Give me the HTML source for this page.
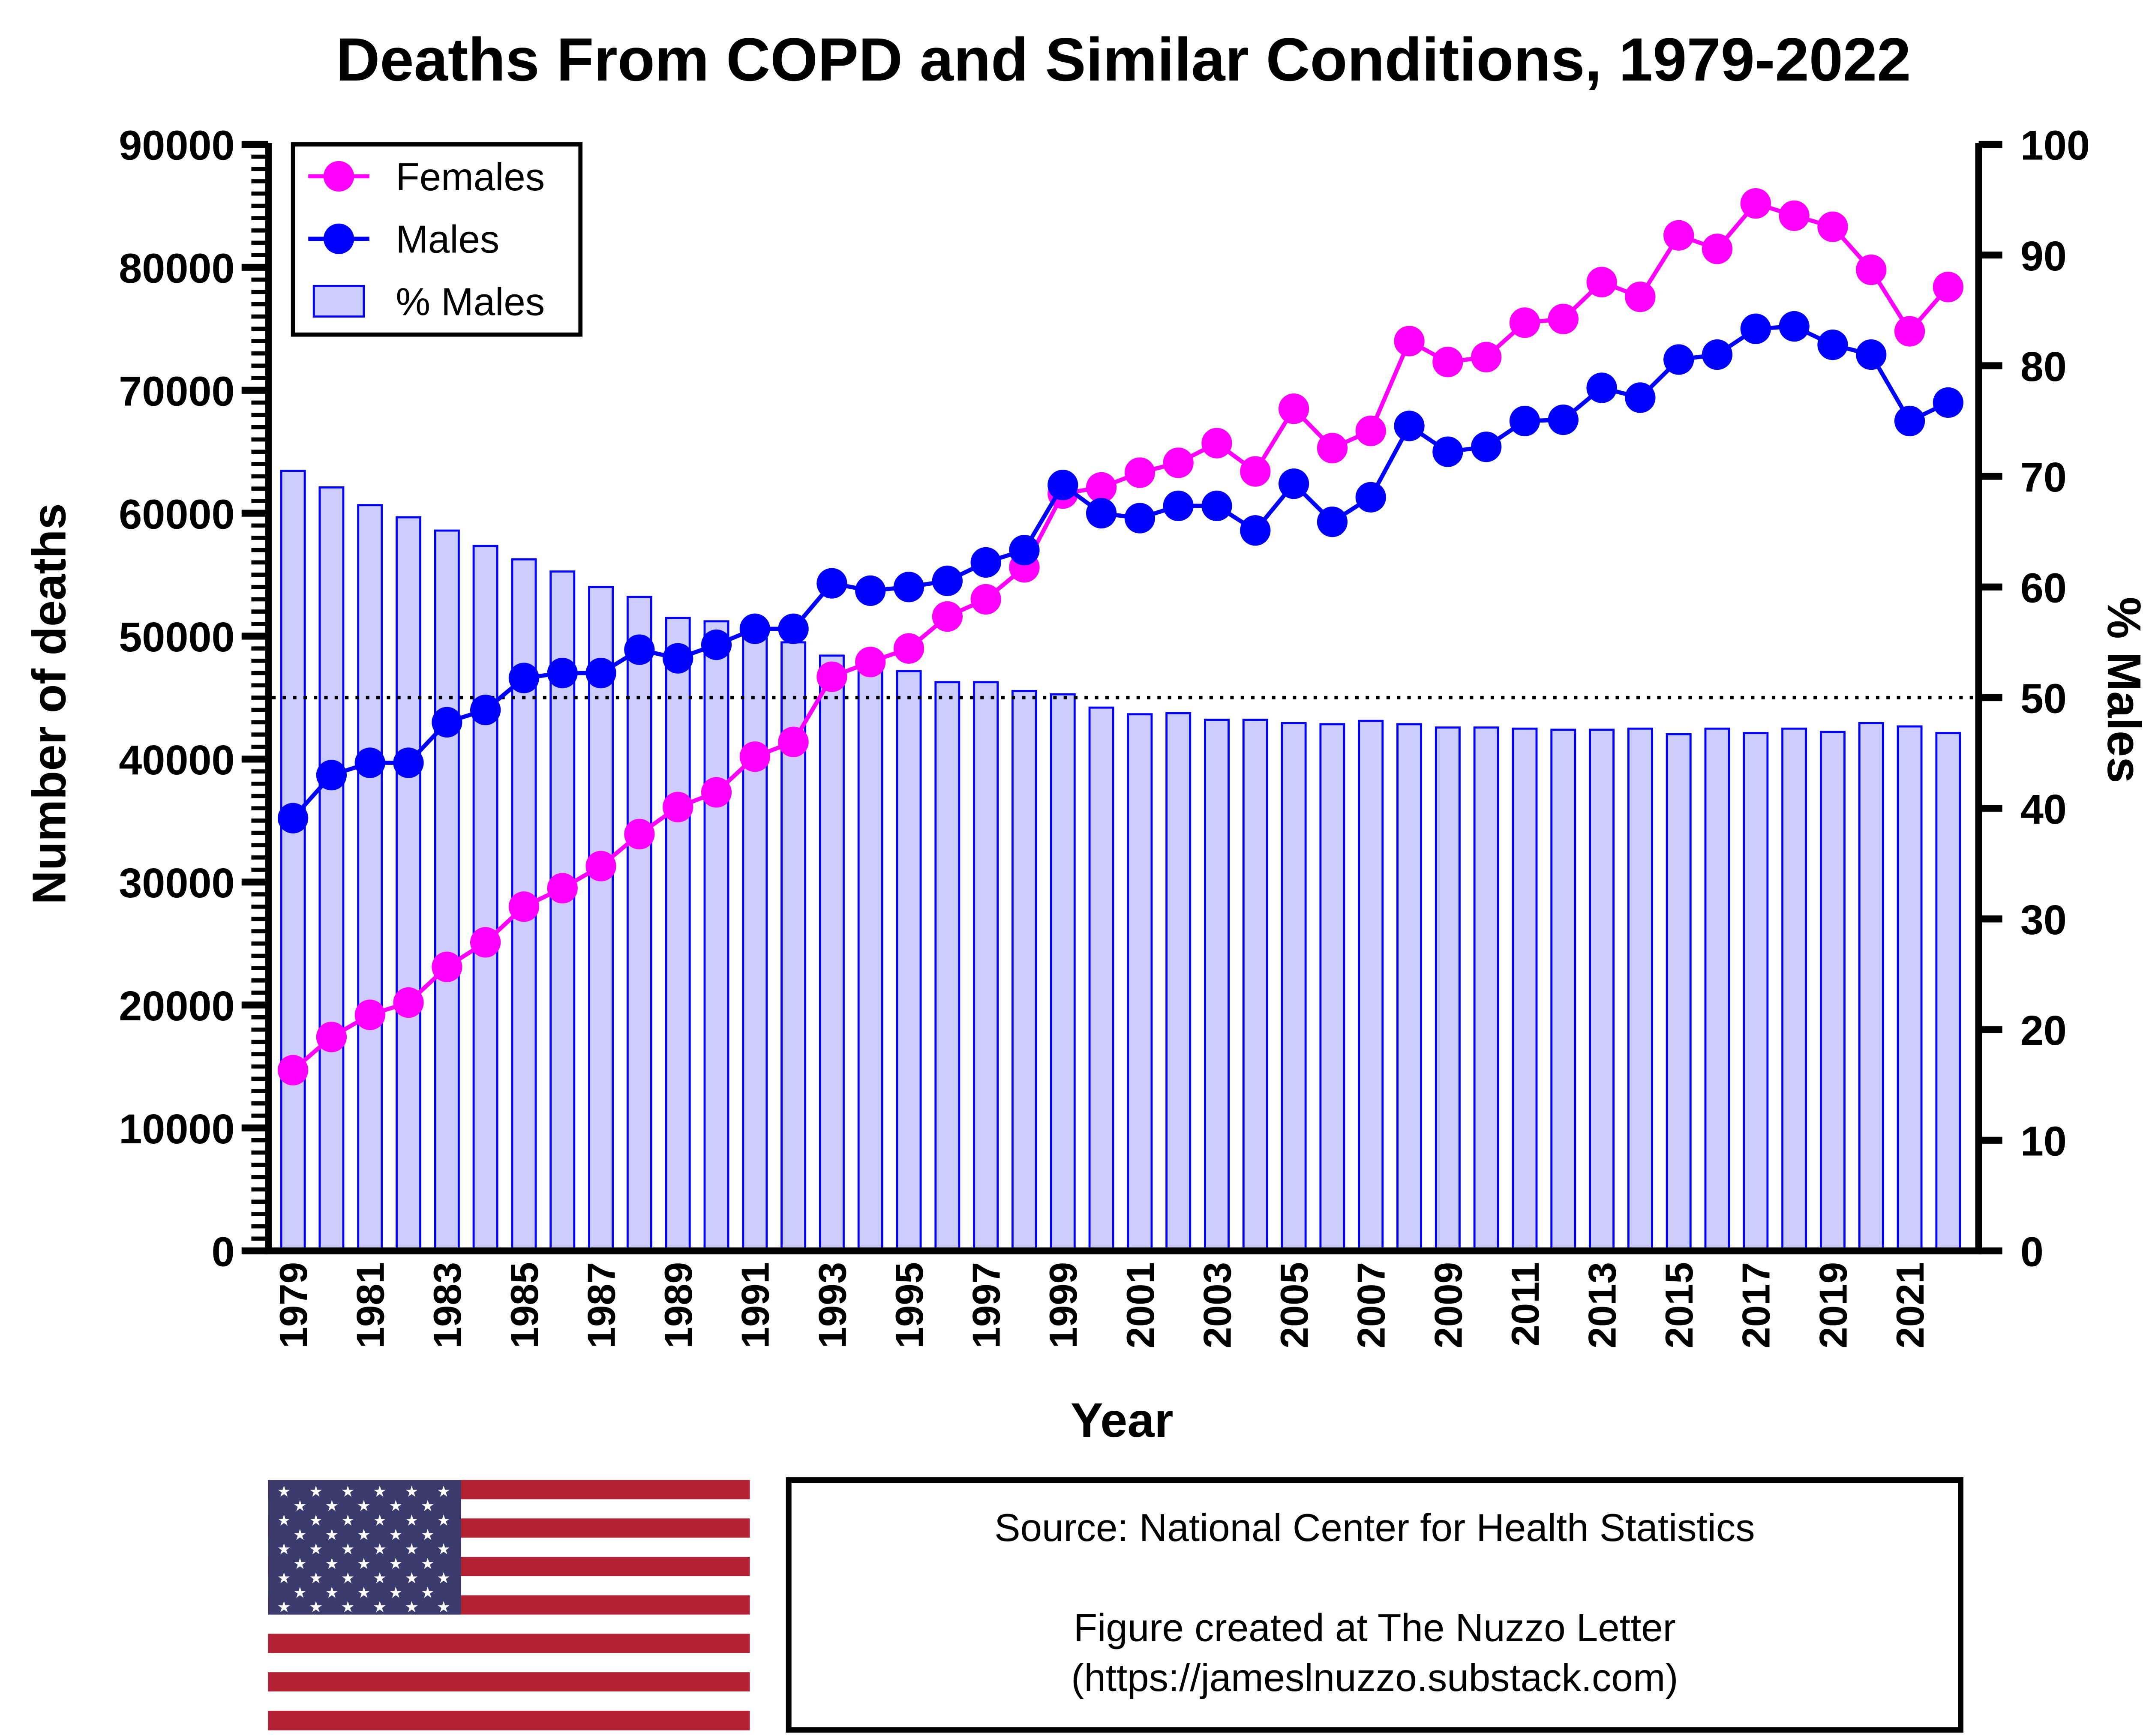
<!DOCTYPE html>
<html><head><meta charset="utf-8"><style>html,body{margin:0;padding:0;background:#fff}svg{display:block}</style></head>
<body>
<svg id="c" width="5067" height="4051" viewBox="0 0 1564 1250.4" preserveAspectRatio="none" xmlns="http://www.w3.org/2000/svg" font-family="Liberation Sans, sans-serif">
<rect width="1564" height="1251" fill="#fff"/>
<text x="809" y="58" text-anchor="middle" font-size="44" font-weight="bold">Deaths From COPD and Similar Conditions, 1979-2022</text>
<g id="bars"></g>
<line x1="196" x2="1422" y1="502.5" y2="502.5" stroke="#000" stroke-width="2.5" stroke-dasharray="2.5 5"/>
<g id="lines"></g>
<g id="axes"></g>
<text transform="translate(47,507) rotate(-90)" text-anchor="middle" font-size="34" font-weight="bold">Number of deaths</text>
<text transform="translate(1518,497) rotate(90)" text-anchor="middle" font-size="34" font-weight="bold">% Males</text>
<text x="808" y="1035" text-anchor="middle" font-size="35" font-weight="bold">Year</text>
<g>
<rect x="211" y="104" width="207" height="137" fill="#fff" stroke="#000" stroke-width="3"/>
<g><line x1="222" x2="266" y1="127" y2="127" stroke="#ff00ff" stroke-width="3"/><circle cx="244" cy="127" r="11" fill="#ff00ff"/><text x="285" y="137" font-size="28">Females</text></g>
<g><line x1="222" x2="266" y1="172" y2="172" stroke="#0000ff" stroke-width="3"/><circle cx="244" cy="172" r="11" fill="#0000ff"/><text x="285" y="182" font-size="28">Males</text></g>
<g><rect x="226" y="206" width="36" height="22" fill="#ccccff" stroke="#0000ff" stroke-width="1.5"/><text x="285" y="227" font-size="28">% Males</text></g>
</g>
<g id="flag"></g>
<g>
<rect x="568" y="1066" width="844" height="180" fill="#fff" stroke="#000" stroke-width="4"/>
<text x="990" y="1110" text-anchor="middle" font-size="28">Source: National Center for Health Statistics</text>
<text x="990" y="1182" text-anchor="middle" font-size="28">Figure created at The Nuzzo Letter</text>
<text x="990" y="1218" text-anchor="middle" font-size="28">(https://jameslnuzzo.substack.com)</text>
</g>
</svg>
<script>
const years=[1979,1980,1981,1982,1983,1984,1985,1986,1987,1988,1989,1990,1991,1992,1993,1994,1995,1996,1997,1998,1999,2000,2001,2002,2003,2004,2005,2006,2007,2008,2009,2010,2011,2012,2013,2014,2015,2016,2017,2018,2019,2020,2021,2022];
const females=[14700,17400,19200,20200,23100,25100,28000,29500,31300,33900,36100,37300,40200,41400,46700,47900,49000,51600,53000,55600,61600,62100,63300,64100,65700,63400,68500,65300,66700,74000,72300,72700,75500,75800,78800,77600,82600,81500,85200,84200,83300,79800,74800,78400];
const males=[35200,38700,39700,39700,43000,44000,46600,47000,47000,48900,48200,49300,50600,50600,54300,53700,54000,54500,56000,57000,62300,60000,59600,60600,60600,58600,62400,59300,61300,67100,65000,65400,67500,67600,70200,69400,72500,72900,75000,75200,73700,72900,67500,69000];
const pctMales=[70.5,69.0,67.4,66.3,65.1,63.7,62.5,61.4,60.0,59.1,57.2,56.9,55.7,55.0,53.8,52.9,52.4,51.4,51.4,50.6,50.3,49.1,48.5,48.6,48.0,48.0,47.7,47.6,47.9,47.6,47.3,47.3,47.2,47.1,47.1,47.2,46.7,47.2,46.8,47.2,46.9,47.7,47.4,46.8];
const leftTicks=[0,10000,20000,30000,40000,50000,60000,70000,80000,90000];
const rightTicks=[0,10,20,30,40,50,60,70,80,90,100];

const NS='http://www.w3.org/2000/svg';
const X0=211,DX=(1403-211)/43,YB=901,YT=104;
const xs=i=>X0+i*DX;
const yL=v=>YB-v/90000*(YB-YT);
const yR=v=>YB-v/100*(YB-YT);
function mk(tag,attrs,parent){const e=document.createElementNS(NS,tag);for(const k in attrs)e.setAttribute(k,attrs[k]);parent.appendChild(e);return e;}

const bars=document.getElementById('bars');
pctMales.forEach((p,i)=>{
  const r=mk('rect',{x:xs(i)-8.5,y:yR(p),width:17,height:YB-yR(p),fill:'#ccccff',stroke:'#0000ff','stroke-width':1.5},bars);
  
  
});

const lines=document.getElementById('lines');
function series(vals,color,name){
  const g=mk('g',{},lines);
  
  
  const pl=mk('polyline',{points:vals.map((v,i)=>xs(i)+','+yL(v)).join(' '),fill:'none',stroke:color,'stroke-width':3},g);
  
  
  vals.forEach((v,i)=>{
    const c=mk('circle',{cx:xs(i),cy:yL(v),r:11,fill:color},g);
    
    
  });
}
series(females,'#ff00ff','females');
series(males,'#0000ff','males');

const ax=document.getElementById('axes');
const la=mk('g',{},ax);


mk('line',{x1:193.5,x2:193.5,y1:YT-1,y2:YB+2,stroke:'#000','stroke-width':5},la);
for(let v=0;v<=90000;v+=1000){mk('line',{x1:181,x2:193,y1:yL(v),y2:yL(v),stroke:'#000','stroke-width':3},la);}
leftTicks.forEach(v=>{
  mk('line',{x1:174,x2:193,y1:yL(v),y2:yL(v),stroke:'#000','stroke-width':5},la);
  const t=mk('text',{x:169,y:yL(v)+11,'text-anchor':'end','font-size':30,'font-weight':'bold'},la);t.textContent=v;
  
  
});
const ra=mk('g',{},ax);


mk('line',{x1:1425,x2:1425,y1:YT-1,y2:YB+2,stroke:'#000','stroke-width':5},ra);
rightTicks.forEach(v=>{
  mk('line',{x1:1425,x2:1442,y1:yR(v),y2:yR(v),stroke:'#000','stroke-width':5},ra);
  const t=mk('text',{x:1455,y:yR(v)+11,'font-size':30,'font-weight':'bold'},ra);t.textContent=v;
  
  
});
const xa=mk('g',{},ax);


mk('line',{x1:191,x2:1427,y1:YB,y2:YB,stroke:'#000','stroke-width':5},xa);
years.forEach((y,i)=>{
  if(i%2===0){
    const t=mk('text',{transform:`translate(${xs(i)+10},${YB+8}) rotate(-90)`,'text-anchor':'end','font-size':28,'font-weight':'bold'},xa);t.textContent=y;
    
    
  }
});

const fl=document.getElementById('flag');
const FX=193,FY=1066,FW=347,FH=180,sh=FH/13;
for(let k=0;k<13;k++){mk('rect',{x:FX,y:FY+k*sh,width:FW,height:sh+0.3,fill:k%2?'#fff':'#b22234'},fl);}
mk('rect',{x:FX,y:FY,width:139,height:sh*7,fill:'#3c3b6e'},fl);
for(let r=0;r<9;r++){const n=r%2?5:6;for(let c=0;c<n;c++){
  const t=mk('text',{x:FX+11.5+c*23+(r%2?11.5:0),y:FY+12+r*10.4,'text-anchor':'middle','font-size':11,fill:'#fff','font-family':'DejaVu Sans, sans-serif'},fl);t.textContent='★';}}
</script>
</body></html>
